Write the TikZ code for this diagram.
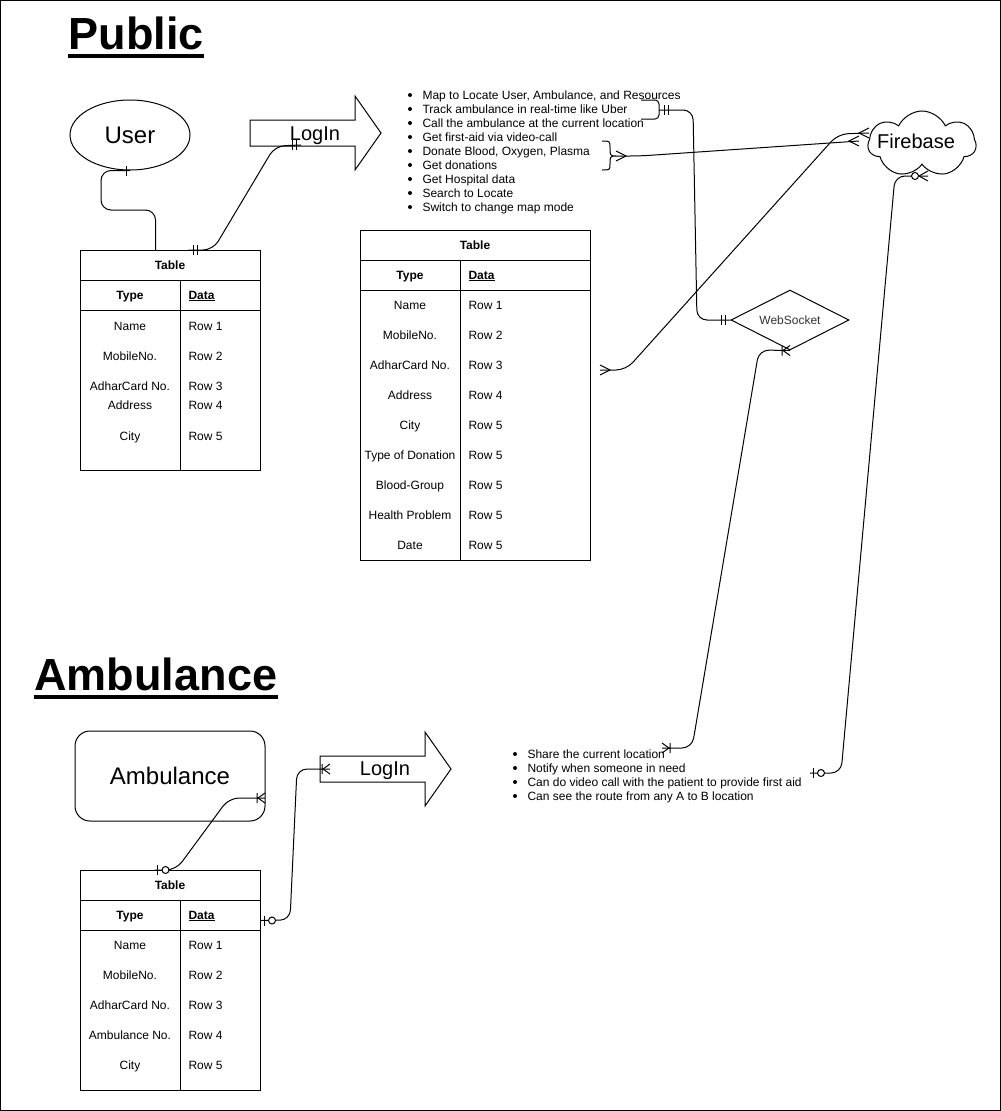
\documentclass[tikz,border=0pt]{standalone}
\usepackage{fontspec}
\setmainfont{Liberation Sans}
\usepackage{tikz}
\usetikzlibrary{shapes.geometric,shapes.symbols,positioning}
\tikzset{txt/.style={font=\fontsize{12}{14}\selectfont, inner sep=0pt},
txtb/.style={font=\fontsize{12}{14}\selectfont\bfseries, inner sep=0pt},
big/.style={font=\fontsize{24}{28}\selectfont},
mid/.style={font=\fontsize{20}{24}\selectfont, inner sep=0pt},
title/.style={font=\fontsize{45}{50}\selectfont\bfseries, inner sep=0pt},
conn/.style={rounded corners=10},
%entity sits at the origin, the line leaves towards +x
er one/.pic={\draw (4,-5) -- (4,5);},
er mandone/.pic={\draw (5,-5) -- (5,5) (9,-5) -- (9,5);},
er many/.pic={\draw (0,-5) -- (10,0) -- (0,5);},
er onemany/.pic={\draw (0,-5) -- (7,0) -- (0,5) (8,-5) -- (8,5);},
er zeroone/.pic={\draw (3,-5) -- (3,5); \draw[fill=white] (11,0) circle (3.5);},
er zeromany/.pic={\draw (0,-5) -- (9,0) -- (0,5); \draw[fill=white] (13,0) circle (3.5);}}

\begin{document}
\begin{tikzpicture}[x=1pt, y=-1pt, line width=1pt]

\useasboundingbox (0,0) rectangle (1001,1111);
\fill[white] (0,0) rectangle (1001,1111);
\draw (0.5,0.5) rectangle (1000.5,1110.5);

% titles
\node[title, anchor=base west] (pub) at (68,49) {Public};
\draw[line width=4pt] ([yshift=-7]pub.base west) -- ([yshift=-7]pub.base east);
\node[title, anchor=base west] (ambt) at (34,690) {Ambulance};
\draw[line width=4pt] ([yshift=-7]ambt.base west) -- ([yshift=-7]ambt.base east);

% entities
\node[draw, ellipse, big, minimum width=120, minimum height=70, inner sep=0pt] (user) at (130,135) {User};
\node[draw, rounded corners=15, big, minimum width=190, minimum height=90] (amb) at (170,776) {Ambulance};
\node[draw, diamond, aspect=2, minimum width=118, minimum height=60, inner sep=0pt, txt, text=black!80] (ws) at (790,320) {WebSocket};
\node[draw, cloud, cloud puffs=7, cloud puff arc=130, aspect=1.6, minimum width=108, minimum height=66, inner sep=0pt] (fb) at (922,144) {};
\node[mid] (fbt) at (916,141) {Firebase};

% login arrows
\draw (250,132.5) ++(0,-12.5) -- ++(105,0) -- ++(0,-24) -- ++(26,37) -- ++(-26,37) -- ++(0,-24) -- ++(-105,0) -- cycle;
\node[mid, anchor=base] (lg1t) at (315,140) {LogIn};
\draw (320,768.5) ++(0,-12.5) -- ++(105,0) -- ++(0,-24) -- ++(26,37) -- ++(-26,37) -- ++(0,-24) -- ++(-105,0) -- cycle;
\node[mid, anchor=base] (lg2t) at (385,775) {LogIn};

% table 1
\node[draw, minimum width=180, minimum height=220, anchor=north west, inner sep=0pt] (t1) at (80,250) {};
\draw (80,280) -- (260,280) (80,310) -- (260,310) (180,280) -- (180,470);
\node[txtb, anchor=base] (t1h) at (170,269) {Table};
\node[txtb, anchor=base] (t1ty) at (130,299) {Type};
\node[txtb, anchor=base west] (t1da) at (188,299) {\underline{Data}};
\foreach \y/\ty/\rw in {326/Name/Row 1, 356/MobileNo./Row 2, 386/AdharCard No./Row 3, 405/Address/Row 4, 436/City/Row 5}
{
  \node[txt, anchor=base] at (130,\y+4) {\ty};
  \node[txt, anchor=base west] at (188,\y+4) {\rw};
}

% table 2
\node[draw, minimum width=230, minimum height=330, anchor=north west, inner sep=0pt] (t2) at (360,230) {};
\draw (360,260) -- (590,260) (360,290) -- (590,290) (460,260) -- (460,560);
\node[txtb, anchor=base] (t2h) at (475,249) {Table};
\node[txtb, anchor=base] (t2ty) at (410,279) {Type};
\node[txtb, anchor=base west] (t2da) at (468,279) {\underline{Data}};
\foreach \ty/\rw [count=\i from 0] in {Name/Row 1, MobileNo./Row 2, AdharCard No./Row 3, Address/Row 4, City/Row 5, Type of Donation/Row 5, Blood-Group/Row 5, Health Problem/Row 5, Date/Row 5}
{
  \node[txt, anchor=base] at (410,309+30*\i) {\ty};
  \node[txt, anchor=base west] at (468,309+30*\i) {\rw};
}

% table 3
\node[draw, minimum width=180, minimum height=220, anchor=north west, inner sep=0pt] (t3) at (80,870) {};
\draw (80,900) -- (260,900) (80,930) -- (260,930) (180,900) -- (180,1090);
\node[txtb, anchor=base] (t3h) at (170,889) {Table};
\node[txtb, anchor=base] (t3ty) at (130,919) {Type};
\node[txtb, anchor=base west] (t3da) at (188,919) {\underline{Data}};
\foreach \ty/\rw [count=\i from 0] in {Name/Row 1, MobileNo./Row 2, AdharCard No./Row 3, Ambulance No./Row 4, City/Row 5}
{
  \node[txt, anchor=base] at (130,949+30*\i) {\ty};
  \node[txt, anchor=base west] at (188,949+30*\i) {\rw};
}

% feature lists
\foreach \t [count=\i from 0] in {{Map to Locate User, Ambulance, and Resources}, Track ambulance in real-time like Uber, Call the ambulance at the current location, Get first-aid via video-call, {Donate Blood, Oxygen, Plasma}, Get donations, Get Hospital data, Search to Locate, Switch to change map mode}
{
  \fill (410,95+14*\i) circle (2);
  \node[txt, anchor=base west] (pl\i) at (422,99+14*\i) {\t};
}
\foreach \t [count=\i from 0] in {Share the current location, Notify when someone in need, Can do video call with the patient to provide first aid, Can see the route from any A to B location}
{
  \fill (515,754+14*\i) circle (2);
  \node[txt, anchor=base west] (al\i) at (527,758+14*\i) {\t};
}

% braces
\draw[rounded corners=4] (641,100) -| (659,119) -- (641,119);
\draw (602,141) .. controls (610,141) and (610,141) .. (610,148) .. controls (610,155) and (610,156) .. (616,156) .. controls (610,156) and (610,157) .. (610,164) .. controls (610,170) and (610,170) .. (602,170);

% connector ends
\coordinate (ub) at (user.south);
\coordinate (t1a) at ([xshift=-15]t1.north);
\coordinate (t1b) at ([xshift=18]t1.north);
\coordinate (lg1) at (301,145);
\coordinate (br1) at (659,110);
\coordinate (br2) at (616,156);
\coordinate (t2r) at (600,370);
\coordinate (fb1) at (869,133);
\coordinate (fb2) at (859,141);
\coordinate (fb3) at (928,176);
\coordinate (li1) at (662,748);
\coordinate (li3) at (810,773);
\coordinate (t3a) at ([xshift=-16]t3.north);
\coordinate (t3b) at ([yshift=60]t3.east);
\coordinate (amb1) at (265,798);
\coordinate (lg2) at (330,769);

% connectors
\draw[conn] (ub) -| (101,210) -| (t1a);
\pic[xscale=-1] at (ub) {er one};

\draw[conn] (t1b) -- (213,250) -- (275,146) -- (lg1);
\pic at (t1b) {er mandone};
\pic[xscale=-1] at (lg1) {er mandone};

\draw[conn] (br1) -- (693,110) -- (697,320) -- (ws.west);
\pic at (br1) {er mandone};
\pic[xscale=-1] at (ws.west) {er mandone};

\draw[conn] (br2) -- (640,156) -- (fb2);
\pic at (br2) {er many};
\pic[xscale=-1] at (fb2) {er many};

\draw[conn] (t2r) -- (626,370) -- (838,134) -- (fb1);
\pic at (t2r) {er many};
\pic[xscale=-1] at (fb1) {er many};

\draw[conn] (ws.south) -- (759,350) -- (692,748) -- (li1);
\pic[xscale=-1] at (ws.south) {er onemany};
\pic at (li1) {er onemany};

\draw[conn] (li3) -- (841,773) -- (895,176) -- (fb3);
\pic at (li3) {er zeroone};
\pic[xscale=-1] at (fb3) {er zeromany};

\draw[conn] (t3a) -- (176,870) -- (229,798) -- (amb1);
\pic at (t3a) {er zeroone};
\pic[xscale=-1] at (amb1) {er onemany};

\draw[conn] (t3b) -- (290,920) -- (297,769) -- (lg2);
\pic at (t3b) {er zeroone};
\pic[xscale=-1] at (lg2) {er onemany};

\end{tikzpicture}
\end{document}
